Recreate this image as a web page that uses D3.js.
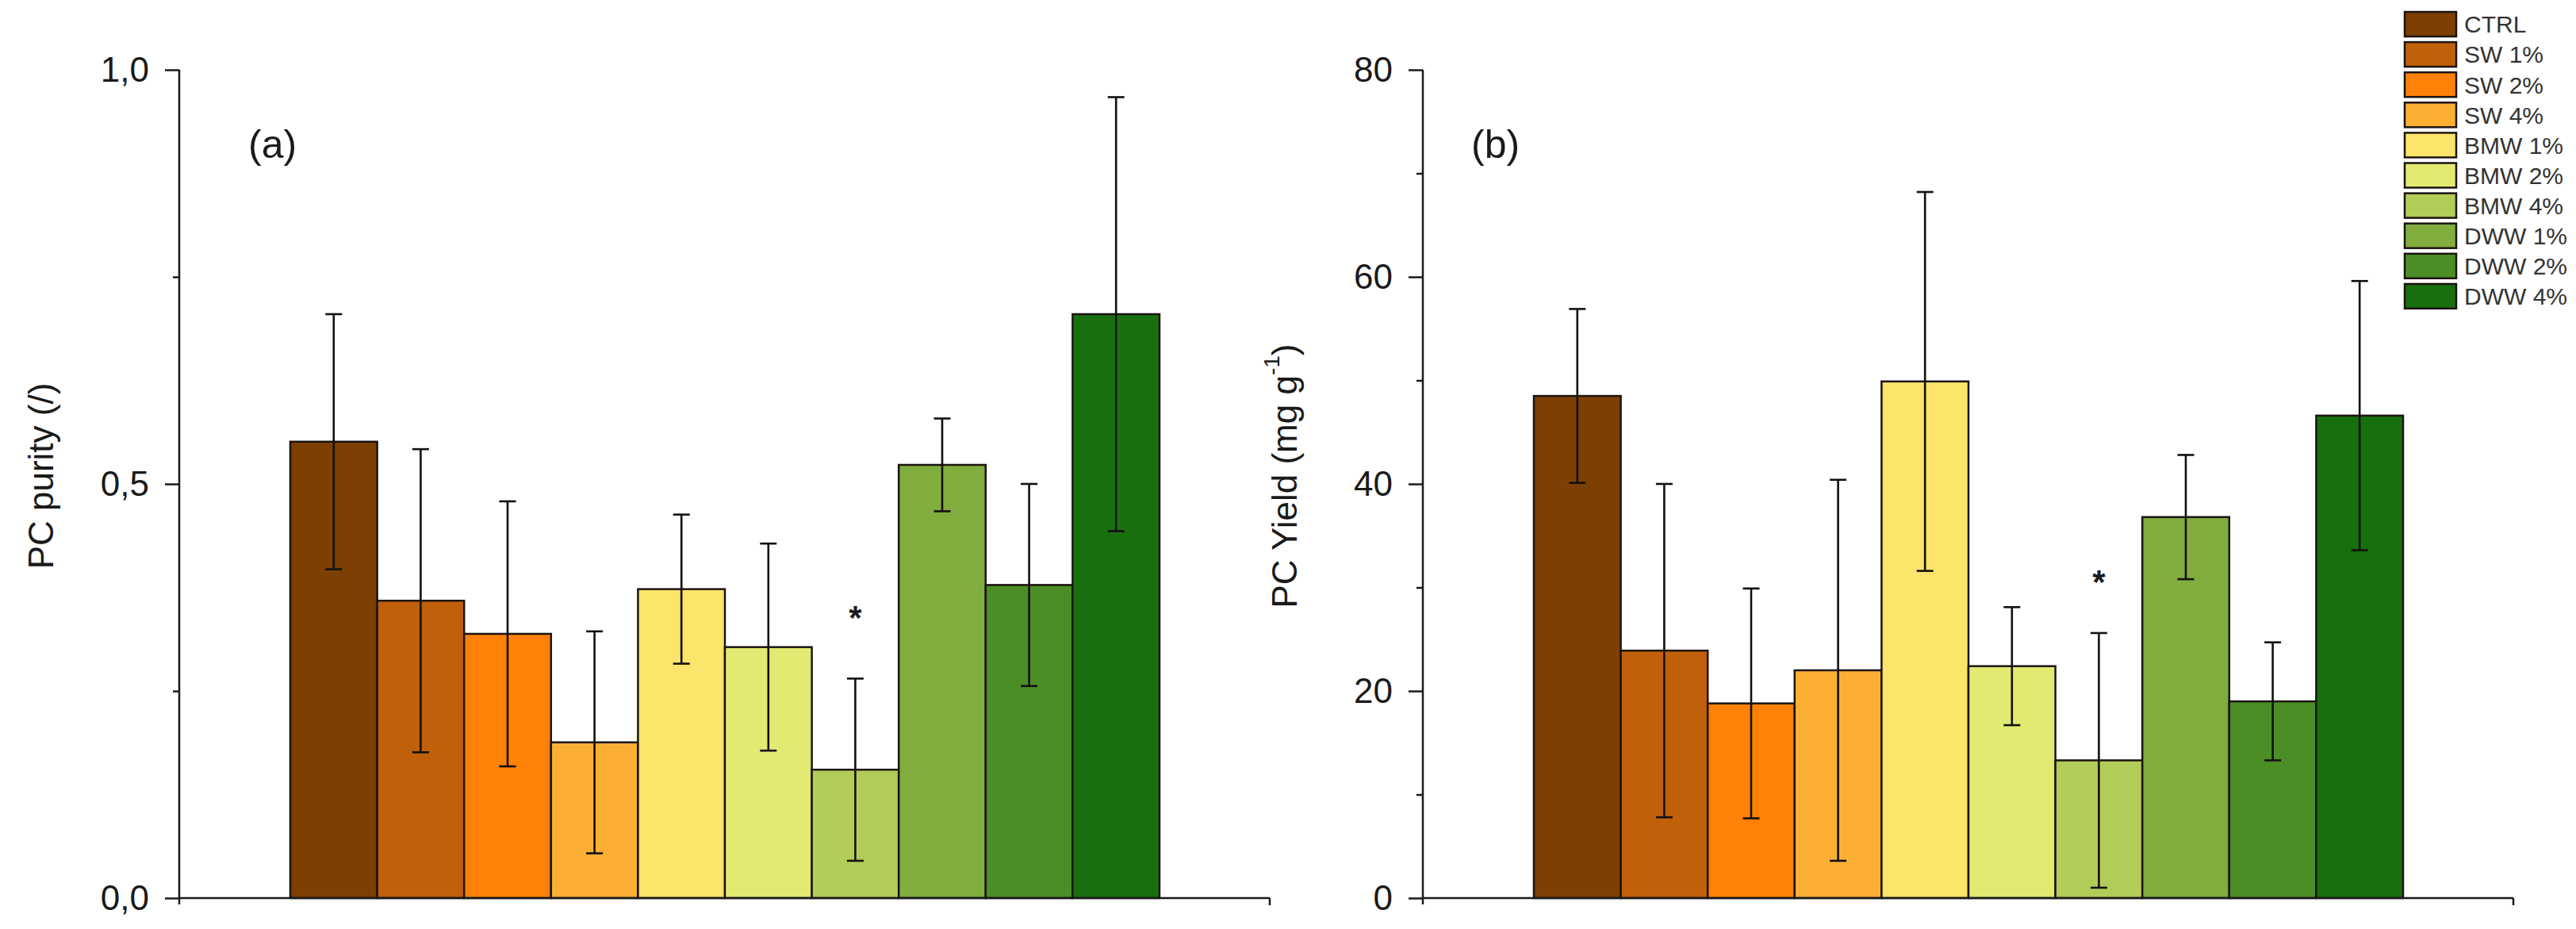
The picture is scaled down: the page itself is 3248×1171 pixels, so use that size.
<!DOCTYPE html>
<html>
<head>
<meta charset="utf-8">
<script src="https://cdn.jsdelivr.net/npm/d3@7"></script>
<style>
  html, body { margin: 0; padding: 0; background: #ffffff; }
  svg { display: block; font-family: "Liberation Sans", Arial, sans-serif; }
</style>
</head>
<body>
<svg id="chart" width="3248" height="1171"></svg>
<script>
// ---- data ----
const categories = ["CTRL", "SW 1%", "SW 2%", "SW 4%", "BMW 1%", "BMW 2%", "BMW 4%", "DWW 1%", "DWW 2%", "DWW 4%"];
const colors = ["#7d3f02", "#c0600a", "#ff8108", "#fbb034", "#fde46a", "#e3ea72", "#b2cc58", "#80ad3e", "#4b8e26", "#186f0e"];

const purity    = [0.551, 0.359, 0.319, 0.188, 0.373, 0.303, 0.155, 0.523, 0.378, 0.705];
const purityErr = [0.154, 0.183, 0.160, 0.134, 0.090, 0.125, 0.110, 0.056, 0.122, 0.262];

const yieldVals = [48.5, 23.9, 18.8, 22.0, 49.9, 22.4, 13.3, 36.8, 19.0, 46.6];
const yieldErr  = [8.4, 16.1, 11.1, 18.4, 18.3, 5.7, 12.3, 6.0, 5.7, 13.0];

const purityTicks = [0, 0.5, 1.0];
const purityMinor = [0.25, 0.75];
const purityTickLabels = ["0,0", "0,5", "1,0"];
const yieldTicks = [0, 20, 40, 60, 80];
const yieldMinor = [10, 30, 50, 70];
const yieldTickLabels = ["0", "20", "40", "60", "80"];

// significance marks: category and the value level where the star sits
const purityStars = [{ cat: "BMW 4%", level: 0.348 }];
const yieldStars  = [{ cat: "BMW 4%", level: 31.3 }];

// ---- layout ----
const svg = d3.select("#chart");
const yTop = 88, yBottom = 1132;
const axisLen = 1375;      // x-axis length
const barOffset = 140;     // gap from y axis to first bar
const barsWidth = 1096;    // total width of bars

function drawPanel(opts) {
  const x0 = opts.x0;
  const g = svg.append("g");

  const y = d3.scaleLinear().domain(opts.domain).range([yBottom, yTop]);
  const x = d3.scaleBand().domain(categories)
    .range([x0 + barOffset, x0 + barOffset + barsWidth]).padding(0);

  // bars
  g.selectAll("rect.bar").data(categories).join("rect")
    .attr("class", "bar")
    .attr("x", d => x(d))
    .attr("width", x.bandwidth())
    .attr("y", (d, i) => y(opts.values[i]))
    .attr("height", (d, i) => y(0) - y(opts.values[i]))
    .attr("fill", (d, i) => colors[i])
    .attr("stroke", "#1c1410")
    .attr("stroke-width", 2.5);

  // error bars
  const cap = 10.5;
  const eb = g.selectAll("g.err").data(categories).join("g").attr("class", "err")
    .attr("stroke", "#151010").attr("stroke-width", 2.6);
  eb.append("line")
    .attr("x1", d => x(d) + x.bandwidth() / 2).attr("x2", d => x(d) + x.bandwidth() / 2)
    .attr("y1", (d, i) => y(opts.values[i] + opts.errs[i]))
    .attr("y2", (d, i) => y(opts.values[i] - opts.errs[i]));
  eb.append("line")
    .attr("x1", d => x(d) + x.bandwidth() / 2 - cap).attr("x2", d => x(d) + x.bandwidth() / 2 + cap)
    .attr("y1", (d, i) => y(opts.values[i] + opts.errs[i]))
    .attr("y2", (d, i) => y(opts.values[i] + opts.errs[i]));
  eb.append("line")
    .attr("x1", d => x(d) + x.bandwidth() / 2 - cap).attr("x2", d => x(d) + x.bandwidth() / 2 + cap)
    .attr("y1", (d, i) => y(opts.values[i] - opts.errs[i]))
    .attr("y2", (d, i) => y(opts.values[i] - opts.errs[i]));

  // stars
  g.selectAll("text.star").data(opts.stars).join("text")
    .attr("class", "star")
    .attr("x", d => x(d.cat) + x.bandwidth() / 2)
    .attr("y", d => y(d.level) + 24)
    .attr("text-anchor", "middle")
    .attr("font-size", 42)
    .attr("font-weight", "bold")
    .attr("fill", "#1a1a1a")
    .text("*");

  // y axis (major)
  const yAxis = d3.axisLeft(y).tickValues(opts.ticks)
    .tickFormat((d, i) => opts.tickLabels[i]).tickSize(18).tickPadding(20);
  const ya = g.append("g").attr("transform", `translate(${x0},0)`).call(yAxis);
  ya.select(".domain").remove();
  ya.selectAll(".tick line").attr("stroke", "#1a1a1a").attr("stroke-width", 2.5);
  ya.selectAll(".tick text").attr("font-size", 44).attr("fill", "#1a1a1a")
    .attr("font-family", "'Liberation Sans', Arial, sans-serif");

  // minor ticks
  const yMinor = d3.axisLeft(y).tickValues(opts.minor).tickFormat("").tickSize(8);
  const ym = g.append("g").attr("transform", `translate(${x0},0)`).call(yMinor);
  ym.select(".domain").remove();
  ym.selectAll(".tick line").attr("stroke", "#1a1a1a").attr("stroke-width", 2.5);

  // axis lines
  g.append("line").attr("x1", x0).attr("x2", x0).attr("y1", yTop).attr("y2", yBottom + 8)
    .attr("stroke", "#1a1a1a").attr("stroke-width", 2.5);
  g.append("line").attr("x1", x0).attr("x2", x0 + axisLen).attr("y1", yBottom).attr("y2", yBottom)
    .attr("stroke", "#1a1a1a").attr("stroke-width", 2.5);
  g.append("line").attr("x1", x0 + axisLen).attr("x2", x0 + axisLen).attr("y1", yBottom).attr("y2", yBottom + 9)
    .attr("stroke", "#1a1a1a").attr("stroke-width", 2.5);

  // panel label
  g.append("text").attr("x", x0 + opts.labelDx).attr("y", 199)
    .attr("font-size", 50).attr("fill", "#1a1a1a").text(opts.panelLabel);

  // y axis title
  const t = g.append("text")
    .attr("transform", `translate(${x0 - 175},600) rotate(-90)`)
    .attr("text-anchor", "middle").attr("dominant-baseline", "central")
    .attr("font-size", 44).attr("fill", "#1a1a1a");
  opts.title(t);
}

drawPanel({
  x0: 226, domain: [0, 1], values: purity, errs: purityErr,
  ticks: purityTicks, minor: purityMinor, tickLabels: purityTickLabels,
  stars: purityStars, panelLabel: "(a)", labelDx: 87,
  title: t => t.text("PC purity (/)")
});

drawPanel({
  x0: 1794, domain: [0, 80], values: yieldVals, errs: yieldErr,
  ticks: yieldTicks, minor: yieldMinor, tickLabels: yieldTickLabels,
  stars: yieldStars, panelLabel: "(b)", labelDx: 61,
  title: t => {
    t.append("tspan").text("PC Yield (mg g");
    t.append("tspan").attr("font-size", 28).attr("dy", -16).text("-1");
    t.append("tspan").attr("dy", 16).text(")");
  }
});

// ---- legend ----
const legend = svg.append("g").attr("transform", "translate(3032,15)");
const pitch = 38.1;
const items = legend.selectAll("g.item").data(categories).join("g")
  .attr("class", "item")
  .attr("transform", (d, i) => `translate(0,${i * pitch})`);
items.append("rect")
  .attr("width", 65).attr("height", 31)
  .attr("fill", (d, i) => colors[i])
  .attr("stroke", "#1c1410").attr("stroke-width", 2.5);
items.append("text")
  .attr("x", 75).attr("y", 15.5).attr("dy", "0.36em")
  .attr("font-size", 30).attr("fill", "#333333")
  .text(d => d);
</script>
</body>
</html>
